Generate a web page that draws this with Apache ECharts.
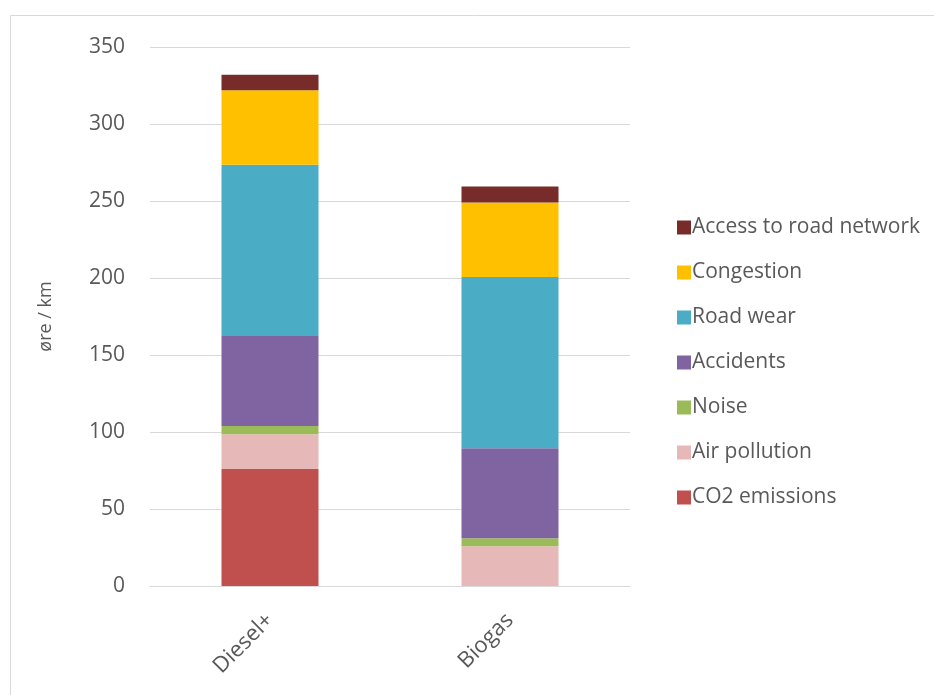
<!DOCTYPE html>
<html><head><meta charset="utf-8">
<script src="https://cdn.jsdelivr.net/npm/echarts@6/dist/echarts.min.js"></script>
<style>html,body{margin:0;padding:0;background:#fff}#c{width:934px;height:695px}</style>
</head><body><div id="c"></div>
<script>
const categories = ['Diesel+', 'Biogas'];
const co2 = [76, 0];
const airPollution = [22.5, 25.8];
const noise = [5.4, 5.2];
const accidents = [58.4, 58.5];
const roadWear = [111.2, 111.1];
const congestion = [48.4, 48.4];
const access = [10, 10.4];
const yTicks = [0, 350, 50];

const seriesDefs = [
  ['CO2 emissions', co2, '#C0504D'],
  ['Air pollution', airPollution, '#E6B9B8'],
  ['Noise', noise, '#9BBB59'],
  ['Accidents', accidents, '#8064A2'],
  ['Road wear', roadWear, '#4BACC6'],
  ['Congestion', congestion, '#FFC000'],
  ['Access to road network', access, '#772C2A']
];
const font = '"Open Sans", sans-serif';
const chart = echarts.init(document.getElementById('c'), null, {renderer: 'canvas'});
chart.setOption({
  animation: false,
  graphic: [{type: 'rect', shape: {x: 10.5, y: 15.5, width: 940, height: 700}, style: {fill: 'none', stroke: '#d9d9d9', lineWidth: 1}, silent: true}],
  grid: {left: 150, right: 304, top: 47, bottom: 109},
  legend: {
    orient: 'vertical', left: 672, top: 212, itemGap: 24, itemWidth: 14, itemHeight: 14,
    icon: 'rect',
    data: seriesDefs.map(s => s[0]).reverse(),
    textStyle: {color: '#595959', fontSize: 21, fontFamily: font, padding: [0, 0, 0, -4]}
  },
  xAxis: {
    type: 'category', data: categories,
    axisLine: {lineStyle: {color: '#d9d9d9'}},
    axisTick: {show: false},
    axisLabel: {rotate: 45, color: '#595959', fontSize: 22, fontFamily: font, margin: 31}
  },
  yAxis: {
    type: 'value', min: yTicks[0], max: yTicks[1], interval: yTicks[2],
    name: 'øre / km', nameLocation: 'middle', nameGap: 95, nameRotate: 90,
    nameTextStyle: {color: '#595959', fontSize: 18, fontFamily: font},
    axisLine: {show: false}, axisTick: {show: false},
    axisLabel: {color: '#595959', fontSize: 21, fontFamily: font, margin: 25},
    splitLine: {lineStyle: {color: '#d9d9d9', width: 1}}
  },
  series: seriesDefs.map(s => ({
    name: s[0], type: 'bar', stack: 'total', data: s[1], barWidth: 97,
    itemStyle: {color: s[2]}
  }))
});
</script></body></html>
